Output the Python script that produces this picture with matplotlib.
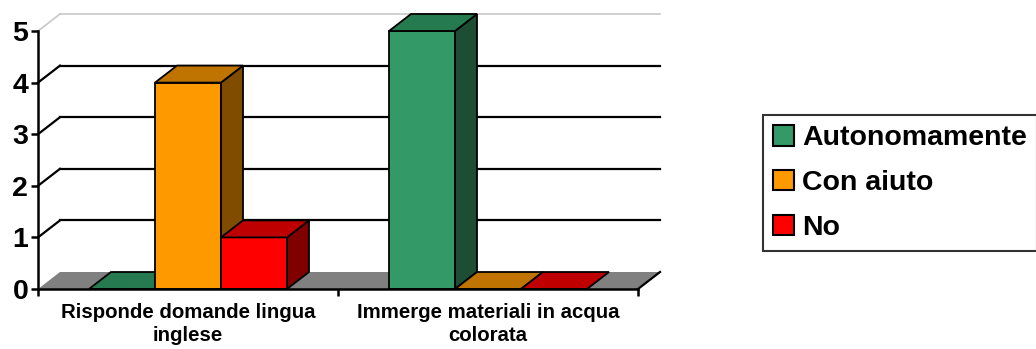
import matplotlib
matplotlib.use("Agg")
import matplotlib.pyplot as plt
from matplotlib.patches import Polygon, Patch

plt.rcParams['font.family'] = ['Liberation Sans', 'DejaVu Sans']
plt.rcParams['font.weight'] = 'bold'

# data
categories = ["Risponde domande lingua\ninglese", "Immerge materiali in acqua\ncolorata"]
series = ["Autonomamente", "Con aiuto", "No"]
autonomamente = [0, 5]
con_aiuto = [4, 0]
no = [1, 0]
values = [autonomamente, con_aiuto, no]

# face colours: front, top, side
front_col = ["#339966", "#FF9900", "#FF0000"]
top_col = ["#267A4F", "#BF7300", "#BF0000"]
side_col = ["#1E4D36", "#804D00", "#800000"]

DX = 22 / 300.0   # depth offset (x, data units)
DY = 17 / 51.6    # depth offset (y, data units)
W = 0.22          # bar width

fig = plt.figure(figsize=(10.36, 3.49), dpi=100)
ax = fig.add_axes([38 / 1036, 60 / 349, 622 / 1036, 275 / 349])
ax.set_xlim(0, 2 + DX)
ax.set_ylim(0, 5 + DY)
ax.patch.set_alpha(0)

# back wall gridlines + side wall diagonals
for y in range(1, 5):
    ax.plot([DX, 2 + DX], [y + DY, y + DY], color="black", lw=1.6, zorder=1, clip_on=False)
    ax.plot([0, DX], [y, y + DY], color="black", lw=1.6, zorder=1, clip_on=False)
ax.plot([DX, 2 + DX], [5 + DY, 5 + DY], color="#c8c8c8", lw=1.2, zorder=1, clip_on=False)
ax.plot([0, DX], [5, 5 + DY], color="#c8c8c8", lw=1.2, zorder=1, clip_on=False)

# floor
ax.add_patch(Polygon([(0, 0), (2, 0), (2 + DX, DY), (DX, DY)], closed=True,
                     facecolor="#808080", edgecolor="none", zorder=2, clip_on=False))
ax.plot([2, 2 + DX], [0, DY], color="black", lw=1.6, zorder=2, clip_on=False)

# 3d bars
z = 3
for c in range(len(categories)):
    for s in range(len(series)):
        h = values[s][c]
        x0 = c + 0.5 + (s - 1) * W - W / 2
        x1 = x0 + W
        if h > 0:
            ax.bar(x0, h, width=W, align="edge", color=front_col[s],
                   edgecolor="black", linewidth=1.3, zorder=z, clip_on=False)
            ax.add_patch(Polygon([(x1, 0), (x1 + DX, DY), (x1 + DX, h + DY), (x1, h)],
                                 closed=True, facecolor=side_col[s], edgecolor="black",
                                 linewidth=1.3, zorder=z, clip_on=False))
        ax.add_patch(Polygon([(x0, h), (x1, h), (x1 + DX, h + DY), (x0 + DX, h + DY)],
                             closed=True, facecolor=top_col[s], edgecolor="black",
                             linewidth=1.3, zorder=z, clip_on=False))
        z += 1

# axes
for sp in ["top", "right"]:
    ax.spines[sp].set_visible(False)
ax.spines["left"].set_bounds(0, 5)
ax.spines["bottom"].set_bounds(0, 2)
ax.spines["left"].set_linewidth(1.8)
ax.spines["bottom"].set_linewidth(1.8)
ax.spines["left"].set_zorder(20)
ax.spines["bottom"].set_zorder(20)

ax.set_yticks(range(6))
ax.set_yticklabels([str(i) for i in range(6)], fontsize=20.5, fontweight="bold")
ax.tick_params(axis="y", length=5, width=1.8, pad=2)

ax.set_xticks([0.5, 1.5])
ax.set_xticklabels(categories, fontsize=14.7, fontweight="bold", linespacing=1.3)
ax.tick_params(axis="x", which="major", length=0, pad=10)
ax.set_xticks([0, 1, 2], minor=True)
ax.tick_params(axis="x", which="minor", length=5, width=1.8)

handles = [Patch(facecolor=front_col[i], edgecolor="black", linewidth=1.5, label=series[i])
           for i in range(3)]
leg = fig.legend(handles=handles, loc="upper left", bbox_to_anchor=(763 / 1036, 1 - 115 / 349),
                 fontsize=20.5, frameon=True, fancybox=False, handlelength=0.72, handleheight=0.72,
                 handletextpad=0.3, labelspacing=0.66, borderpad=0.36, borderaxespad=0)
leg.get_frame().set_edgecolor("black")
leg.get_frame().set_linewidth(1.5)
for t in leg.get_texts():
    t.set_fontweight("bold")

fig.savefig("out.png", dpi=100)
